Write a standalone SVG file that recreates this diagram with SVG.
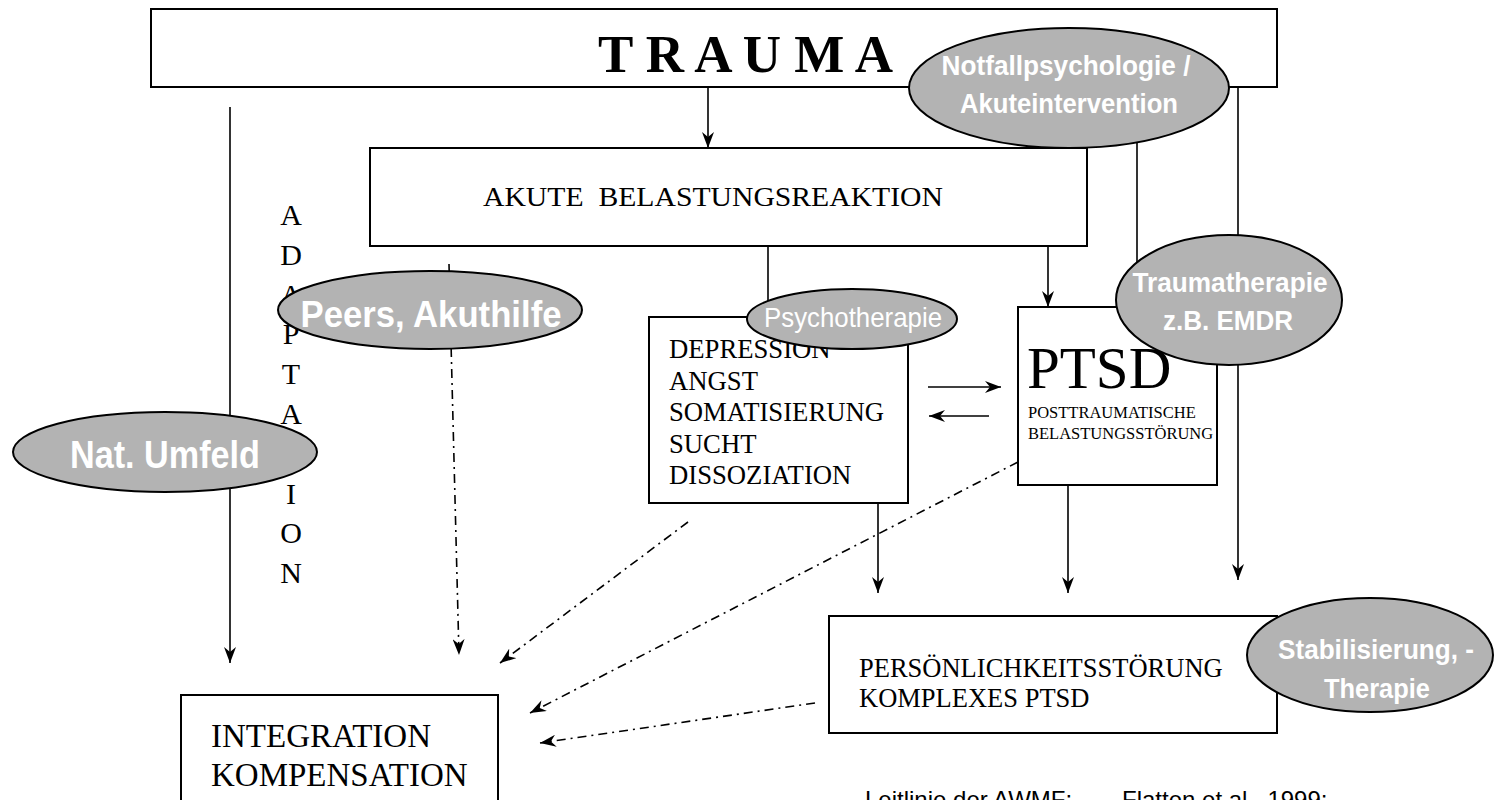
<svg xmlns="http://www.w3.org/2000/svg" width="1495" height="800" viewBox="0 0 1495 800">
<style>
.box{fill:#fff;stroke:#000;stroke-width:2}
.ell{fill:#b3b3b3;stroke:#000;stroke-width:2}
.ln{stroke:#000;stroke-width:1.6;fill:none}
.dd{stroke:#000;stroke-width:1.6;fill:none;stroke-dasharray:9,5,2,5}
.serif{font-family:"Liberation Serif","Times New Roman",serif;fill:#000}
.et{font-family:"Liberation Sans",Arial,sans-serif;font-weight:bold;fill:#fff;text-anchor:middle}
.et.reg{font-weight:normal}
</style>
<defs>
<marker id="ah" viewBox="0 0 16 12" markerWidth="16" markerHeight="12" refX="16" refY="6" orient="auto" markerUnits="userSpaceOnUse">
<path d="M0,0 L16,6 L0,12 L5,6 z" fill="#000"/>
</marker>
</defs>
<rect width="1495" height="800" fill="#fff"/>

<g id="connectors">
<line class="ln" x1="230" y1="107" x2="230" y2="663" marker-end="url(#ah)"/>
<line class="ln" x1="708" y1="88" x2="708" y2="148" marker-end="url(#ah)"/>
<line class="ln" x1="1137" y1="88" x2="1137" y2="290"/>
<line class="ln" x1="1238" y1="88" x2="1238" y2="580" marker-end="url(#ah)"/>
<line class="ln" x1="768" y1="246" x2="768" y2="317"/>
<line class="ln" x1="1048" y1="246" x2="1048" y2="307" marker-end="url(#ah)"/>
<line class="ln" x1="928" y1="387" x2="1001" y2="387" marker-end="url(#ah)"/>
<line class="ln" x1="989" y1="416" x2="929" y2="416" marker-end="url(#ah)"/>
<line class="ln" x1="878" y1="503" x2="878" y2="593" marker-end="url(#ah)"/>
<line class="ln" x1="1068" y1="485" x2="1068" y2="593" marker-end="url(#ah)"/>
<line class="dd" x1="449" y1="264" x2="459" y2="655" marker-end="url(#ah)"/>
<line class="dd" x1="688" y1="522" x2="500" y2="663" marker-end="url(#ah)"/>
<line class="dd" x1="1018" y1="462" x2="530" y2="713" marker-end="url(#ah)"/>
<line class="dd" x1="815" y1="703" x2="540" y2="743" marker-end="url(#ah)"/>
</g>

<g id="trauma">
<rect class="box" x="151" y="9" width="1126" height="78"/>
<text class="serif" x="598" y="72" font-size="53" font-weight="bold">T R A U M A</text>
</g>

<g id="akute">
<rect class="box" x="370" y="148" width="717" height="98"/>
<text class="serif" x="483" y="206" font-size="28" textLength="460" lengthAdjust="spacingAndGlyphs" xml:space="preserve">AKUTE  BELASTUNGSREAKTION</text>
</g>

<g id="adaptation" class="serif" font-size="30" text-anchor="middle">
<text x="291" y="225">A</text>
<text x="291" y="265">D</text>
<text x="291" y="305">A</text>
<text x="291" y="344">P</text>
<text x="291" y="384">T</text>
<text x="291" y="424">A</text>
<text x="291" y="464">T</text>
<text x="291" y="504">I</text>
<text x="291" y="543">O</text>
<text x="291" y="583">N</text>
</g>

<g id="depression">
<rect class="box" x="649" y="317" width="259" height="186"/>
<g class="serif" font-size="26.7">
<text x="669" y="358">DEPRESSION</text>
<text x="669" y="390">ANGST</text>
<text x="669" y="421">SOMATISIERUNG</text>
<text x="669" y="453">SUCHT</text>
<text x="669" y="484">DISSOZIATION</text>
</g>
</g>

<g id="ptsd">
<rect class="box" x="1018" y="307" width="199" height="178"/>
<text class="serif" x="1027" y="388" font-size="59">PTSD</text>
<text class="serif" x="1028" y="418" font-size="16.5">POSTTRAUMATISCHE</text>
<text class="serif" x="1028" y="439" font-size="16.5">BELASTUNGSSTÖRUNG</text>
</g>

<g id="persoenlichkeit">
<rect class="box" x="829" y="616" width="448" height="117"/>
<text class="serif" x="859" y="677" font-size="26.5">PERSÖNLICHKEITSSTÖRUNG</text>
<text class="serif" x="859" y="707" font-size="26.5">KOMPLEXES PTSD</text>
</g>

<g id="integration">
<rect class="box" x="181" y="695" width="317" height="120"/>
<text class="serif" x="211" y="747" font-size="33">INTEGRATION</text>
<text class="serif" x="211" y="786" font-size="33">KOMPENSATION</text>
</g>

<g id="notfall">
<ellipse class="ell" cx="1069" cy="88" rx="160" ry="60"/>
<text class="et" x="1066" y="75" font-size="28" textLength="249" lengthAdjust="spacingAndGlyphs">Notfallpsychologie /</text>
<text class="et" x="1069" y="113" font-size="28" textLength="218" lengthAdjust="spacingAndGlyphs">Akuteintervention</text>
</g>

<g id="peers">
<ellipse class="ell" cx="430" cy="310" rx="152" ry="39"/>
<text class="et" x="431" y="327" font-size="37" textLength="261" lengthAdjust="spacingAndGlyphs">Peers, Akuthilfe</text>
</g>

<g id="umfeld">
<ellipse class="ell" cx="165" cy="452" rx="152" ry="40"/>
<text class="et" x="165" y="468" font-size="38" textLength="190" lengthAdjust="spacingAndGlyphs">Nat. Umfeld</text>
</g>

<g id="psychotherapie">
<ellipse class="ell" cx="852" cy="319" rx="105" ry="30"/>
<text class="et reg" x="853" y="327" font-size="28" textLength="178" lengthAdjust="spacingAndGlyphs">Psychotherapie</text>
</g>

<g id="traumatherapie">
<ellipse class="ell" cx="1229" cy="300" rx="113" ry="65"/>
<text class="et" x="1230" y="292" font-size="28" textLength="195" lengthAdjust="spacingAndGlyphs">Traumatherapie</text>
<text class="et" x="1228" y="330" font-size="28" textLength="130" lengthAdjust="spacingAndGlyphs">z.B. EMDR</text>
</g>

<g id="stabilisierung">
<ellipse class="ell" cx="1370" cy="655" rx="123" ry="57"/>
<text class="et" x="1376" y="659" font-size="28" textLength="196" lengthAdjust="spacingAndGlyphs">Stabilisierung, -</text>
<text class="et" x="1377" y="698" font-size="28" textLength="106" lengthAdjust="spacingAndGlyphs">Therapie</text>
</g>

<g id="source">
<text x="865" y="808" font-family="Liberation Sans, Arial, sans-serif" font-size="24" fill="#000">Leitlinie der AWMF:</text>
<text x="1122" y="808" font-family="Liberation Sans, Arial, sans-serif" font-size="24" fill="#000">Flatten et al., 1999;</text>
</g>
</svg>
